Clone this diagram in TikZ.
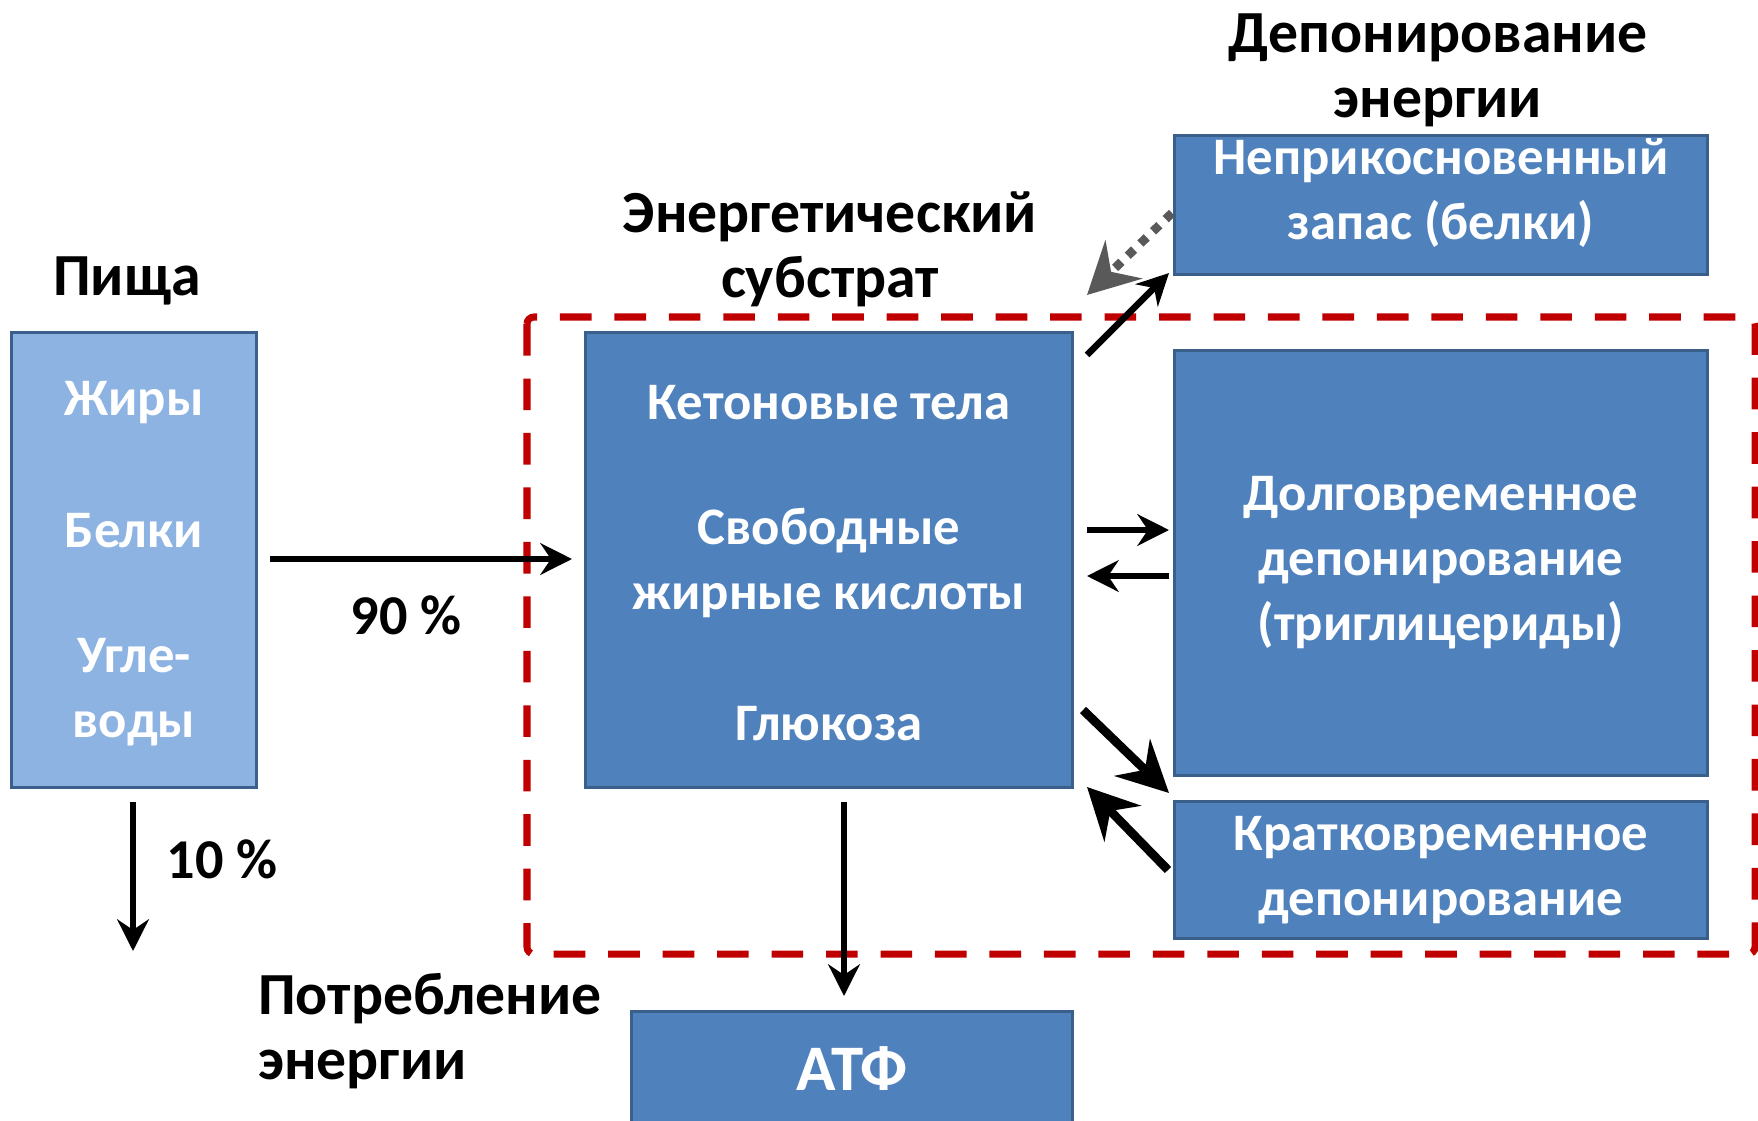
\documentclass[tikz,border=0pt]{standalone}
\usepackage{fontspec}
\setmainfont{Carlito}
\usetikzlibrary{arrows.meta}
\definecolor{boxblue}{HTML}{4F81BD}
\definecolor{boxedge}{HTML}{3A5F8B}
\definecolor{foodblue}{HTML}{8DB3E2}
\definecolor{zonered}{HTML}{C00000}
\definecolor{dotgray}{HTML}{595959}
\tikzset{
  box/.style = {draw = boxedge, line width = 1.7pt, fill = boxblue, text = white,
    font = \bfseries\fontsize{30}{37}\selectfont, align = center, inner sep = 0pt},
  intext/.style = {text = white, font = \bfseries\fontsize{30}{37}\selectfont, align = center},
  title/.style = {font = \bfseries\fontsize{34}{37}\selectfont, align = center},
  thinarr/.style = {line width = 3.8pt, -{Stealth[length = 18pt, width = 18pt, inset = 6pt]}},
  thickarr/.style = {line width = 5pt, -{Stealth[length = 29pt, width = 29pt, inset = 10pt]}}
}
\begin{document}
\begin{tikzpicture}[x = 0.02cm, y = -0.02cm]
      \useasboundingbox (0, 0) rectangle (1758, 1120);
      % dashed zone
      \draw[zonered, line width = 4pt, dash pattern = on 18pt off 13pt, rounded corners = 4pt]
        (527, 317) rectangle (1755, 954);
      % boxes
      \node[box, fill = foodblue, minimum width = 4.92cm, minimum height = 9.12cm] (food) at (134, 560) {};
      \node[box, minimum width = 9.76cm, minimum height = 9.12cm] (sub) at (829, 560) {};
      \node[box, minimum width = 10.66cm, minimum height = 2.78cm] (reserve) at (1441, 205) {};
      \node[box, minimum width = 10.66cm, minimum height = 8.52cm] (longdep) at (1441, 563) {Долговременное\\депонирование\\(триглицериды)};
      \node[box, minimum width = 10.66cm, minimum height = 2.74cm] (shortdep) at (1441, 870) {Кратковременное\\депонирование};
      \node[box, minimum width = 8.84cm, minimum height = 2.3cm, font = \bfseries\fontsize{37}{44}\selectfont] (atp) at (852, 1069) {АТФ};
      % texts in boxes
      \node[intext] (fat) at (134, 403) {Жиры};
      \node[intext] (prot) at (134, 531) {Белки};
      \node[intext] (carb) at (134, 692) {Угле-\\воды};
      \node[intext] (keton) at (829, 403) {Кетоновые тела};
      \node[intext] (ffa) at (829, 563) {Свободные\\жирные кислоты};
      \node[intext] (gluc) at (829, 724) {Глюкоза};
      \node[intext] (restxt) at (1441, 193) {Неприкосновенный\\запас (белки)};
      % titles
      \node[title] (tfood) at (127, 281) {Пища};
      \node[title] (tsub) at (830, 249) {Энергетический\\субстрат};
      \node[title] (tdep) at (1438, 70) {Депонирование\\энергии};
      \node[title, align = left, anchor = west] (tuse) at (252, 1031) {Потребление\\энергии};
      \node[title, font = \bfseries\fontsize{32}{37}\selectfont] (p90) at (406, 615) {90 \%};
      \node[title, font = \bfseries\fontsize{32}{37}\selectfont] (p10) at (222, 859) {10 \%};
      % arrow ends
      \coordinate (a1) at (270, 559);
      \coordinate (a2) at (572, 559);
      \coordinate (b1) at (133, 802);
      \coordinate (b2) at (133, 951);
      \coordinate (c1) at (844, 802);
      \coordinate (c2) at (844, 996);
      \coordinate (d1) at (1087, 355);
      \coordinate (d2) at (1169, 273);
      \coordinate (e1) at (1172, 213);
      \coordinate (e2) at (1087, 295);
      \coordinate (f1) at (1087, 530);
      \coordinate (f2) at (1169, 530);
      \coordinate (g1) at (1169, 576);
      \coordinate (g2) at (1087, 576);
      \coordinate (h1) at (1083, 710);
      \coordinate (h2) at (1169, 793);
      \coordinate (k1) at (1168, 870);
      \coordinate (k2) at (1087, 787);
      % arrows
      \draw[thinarr] (a1) -- (a2);
      \draw[thinarr] (b1) -- (b2);
      \draw[thinarr] (c1) -- (c2);
      \draw[thinarr] (d1) -- (d2);
      \draw[thinarr] (f1) -- (f2);
      \draw[thinarr] (g1) -- (g2);
      \draw[thickarr] (h1) -- (h2);
      \draw[thickarr] (k1) -- (k2);
      \draw[dotgray, line width = 5pt, dash pattern = on 5pt off 5pt,
        -{Stealth[length = 29pt, width = 30pt, inset = 10pt]}] (e1) -- (e2);
    \end{tikzpicture}
\end{document}
